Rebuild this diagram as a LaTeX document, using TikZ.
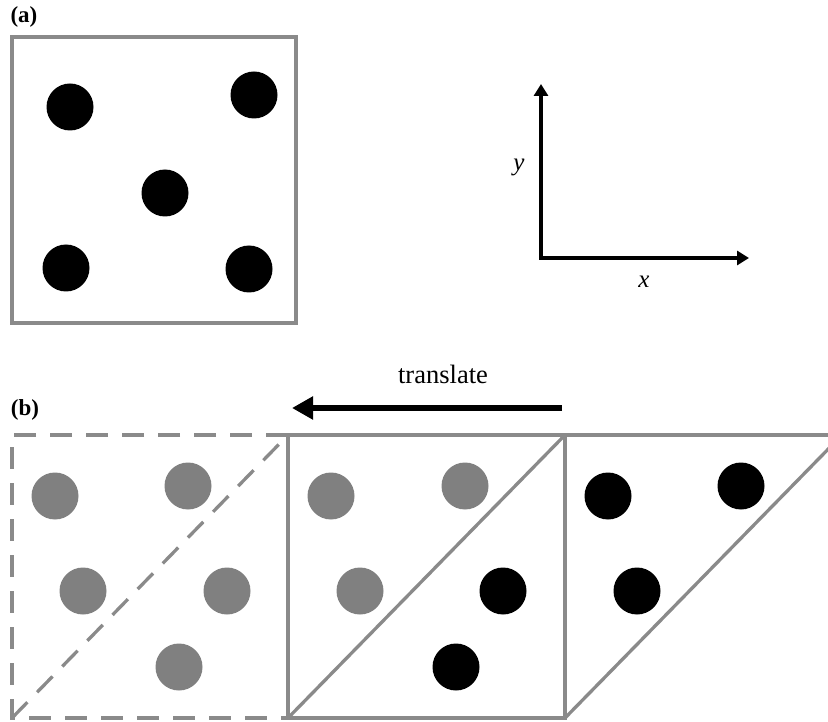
\documentclass[tikz,border=0pt]{standalone}
\usepackage{fontspec}
\setmainfont{Liberation Serif}
\usetikzlibrary{arrows.meta}
\definecolor{frame}{HTML}{8A8A8A}
\definecolor{dotgray}{HTML}{808080}
\tikzset{
  dotblack/.style={circle,fill=black,draw=none,minimum size=47pt,inner sep=0pt},
  dotgrey/.style={circle,fill=dotgray,draw=none,minimum size=47pt,inner sep=0pt},
  framebox/.style={draw=frame,line width=3.3pt},
  framedash/.style={draw=frame,line width=3.3pt,dash pattern=on 22pt off 14pt},
  axis/.style={line width=4pt,-{Triangle[length=12pt,width=14pt]}},
  lab/.style={font=\fontsize{23}{27}\selectfont\bfseries,inner sep=0pt},
  ital/.style={font=\fontsize{25}{29}\selectfont\itshape,inner sep=0pt},
}
\begin{document}
\begin{tikzpicture}[x=1pt,y=-1pt]
\useasboundingbox (0,0) rectangle (828,722);
\fill[white] (0,0) rectangle (828,722);
% ---- (a)
\node[lab] (la) at (24,17) {(a)};
\draw[framebox] (12,37) rectangle (296,323);
\node[dotblack] (a1) at (70,107) {};
\node[dotblack] (a2) at (254,95) {};
\node[dotblack] (a3) at (165,193) {};
\node[dotblack] (a4) at (66,268) {};
\node[dotblack] (a5) at (249,269) {};
% axes
\coordinate (O) at (541,258);
\coordinate (Y) at (541,84);
\coordinate (X) at (749,258);
\draw[axis] ([yshift=2pt]O) -- (Y);
\draw[axis] ([xshift=-2pt]O) -- (X);
\node[ital] (ly) at (519,167) {y};
\node[ital] (lx) at (644,282) {x};
% ---- (b)
\node[lab] (lb) at (25,410) {(b)};
\node[font=\fontsize{26.5}{30}\selectfont,inner sep=0pt] (tr) at (443,374) {translate};
\coordinate (ts) at (562,408);
\coordinate (te) at (292,408);
\draw[line width=6pt,-{Triangle[length=21pt,width=22pt]}] (ts) -- (te);
% squares
\coordinate (p0) at (12,435);
\coordinate (p1) at (288,435);
\coordinate (p2) at (565,435);
\coordinate (q0) at (12,718);
\coordinate (q1) at (288,718);
\coordinate (q2) at (565,718);
\draw[framedash] (p1) -- (p0) -- (q0) -- (q1);
\draw[framedash] (q0) -- (p1);
\draw[framebox] (p1) -- (p2) -- (q2) -- (q1) -- cycle;
\draw[framebox] (q1) -- (p2);
\begin{scope}
\clip (0,0) rectangle (828,722);
\draw[framebox] (p2) -- (840,435);
\draw[framebox] (q2) -- (842,435);
\end{scope}
% dots left square
\node[dotgrey] (l1) at (55,496) {};
\node[dotgrey] (l2) at (188,486) {};
\node[dotgrey] (l3) at (83,591) {};
\node[dotgrey] (l4) at (227,591) {};
\node[dotgrey] (l5) at (179,667) {};
% middle
\node[dotgrey] (m1) at (331,496) {};
\node[dotgrey] (m2) at (465,486) {};
\node[dotgrey] (m3) at (360,591) {};
\node[dotblack] (m4) at (503,591) {};
\node[dotblack] (m5) at (456,667) {};
% right
\node[dotblack] (r1) at (608,496) {};
\node[dotblack] (r2) at (741,486) {};
\node[dotblack] (r3) at (637,591) {};
\end{tikzpicture}
\end{document}
